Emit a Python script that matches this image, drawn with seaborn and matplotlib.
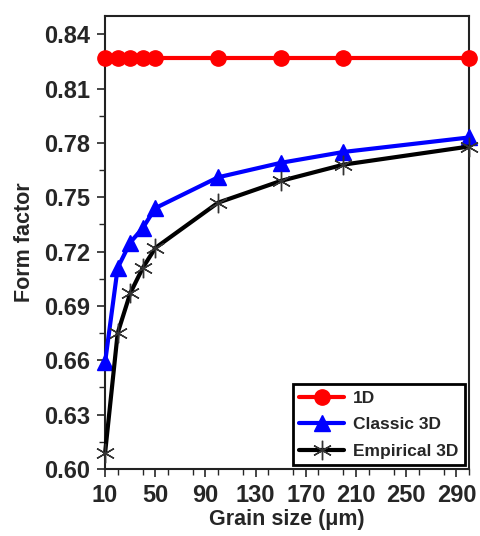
import numpy as np
import pandas as pd
import matplotlib
matplotlib.use("Agg")
import matplotlib.pyplot as plt
import seaborn as sns
from matplotlib.ticker import MultipleLocator

# --- data ---
grain_size = [10, 20, 30, 40, 50, 100, 150, 200, 300]
ff_1d = [0.827, 0.827, 0.827, 0.827, 0.827, 0.827, 0.827, 0.827, 0.827]
ff_classic = [0.659, 0.711, 0.725, 0.733, 0.744, 0.761, 0.769, 0.775, 0.783]
ff_empirical = [0.609, 0.675, 0.697, 0.711, 0.722, 0.747, 0.759, 0.768, 0.778]

series_names = ["1D", "Classic 3D", "Empirical 3D"]
series_values = [ff_1d, ff_classic, ff_empirical]

df = pd.concat([
    pd.DataFrame({"Grain size": grain_size, "Form factor": vals, "Model": name})
    for name, vals in zip(series_names, series_values)
])

sns.set_theme(style="ticks")
plt.rcParams["font.family"] = ["Liberation Sans", "DejaVu Sans"]
plt.rcParams["font.weight"] = "bold"

fig = plt.figure(figsize=(4.8, 5.36), dpi=100)
ax = fig.add_axes([0.219, 0.125, 0.758, 0.845])

styles = {
    "1D": dict(color="#ff0000", marker="o", markersize=11, lw=3),
    "Classic 3D": dict(color="#0000ff", marker="^", markersize=11, lw=3),
    "Empirical 3D": dict(color="black", marker=(6, 2, 0), markersize=14, lw=3,
                         markeredgecolor="#333333", markeredgewidth=1),
}

for name in series_names:
    st = styles[name]
    sub = df[df["Model"] == name]
    sns.lineplot(data=sub, x="Grain size", y="Form factor", ax=ax, label=name,
                 color=st["color"], linewidth=st["lw"], marker=st["marker"],
                 markersize=st["markersize"],
                 markeredgecolor=st.get("markeredgecolor", st["color"]),
                 markeredgewidth=st.get("markeredgewidth", 1),
                 clip_on=False, zorder=3)

ax.set_xlim(10, 300)
ax.set_ylim(0.60, 0.85)
ax.set_xticks(np.arange(10, 300, 40))
ax.xaxis.set_minor_locator(MultipleLocator(20))
yt = np.arange(0.60, 0.841, 0.03)
ax.set_yticks(yt)
ax.set_yticklabels([f"{v:.2f}" for v in yt])
ax.yaxis.set_minor_locator(MultipleLocator(0.015))
ax.tick_params(which="major", direction="out", length=6, width=1.2,
               labelsize=17, pad=5)
ax.tick_params(which="minor", direction="out", length=4, width=1.0)
for lab in ax.get_xticklabels() + ax.get_yticklabels():
    lab.set_fontweight("bold")

for sp in ax.spines.values():
    sp.set_visible(True)
    sp.set_linewidth(1.5)
    sp.set_color("#222222")

ax.set_xlabel("Grain size (\u03bcm)", fontsize=15.5, fontweight="bold", labelpad=1)
ax.set_ylabel("Form factor", fontsize=15.5, fontweight="bold", labelpad=6)

leg = ax.legend(loc="lower right", frameon=True, fancybox=False,
                prop={"weight": "bold", "size": 12.5}, borderpad=0.35,
                handlelength=2.6, handletextpad=0.5, labelspacing=0.65,
                borderaxespad=0.25)
leg.get_frame().set_edgecolor("black")
leg.get_frame().set_linewidth(2)
leg.get_frame().set_alpha(1)

fig.savefig("out.png", dpi=100)
